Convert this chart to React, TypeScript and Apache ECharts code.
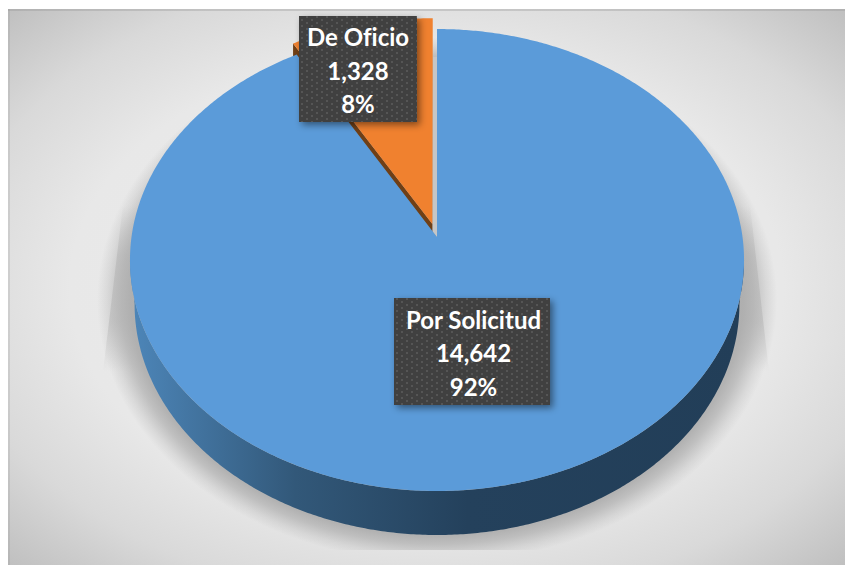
import React, { useEffect, useRef } from "react";
import * as echarts from "echarts";

const categories = ["Por Solicitud", "De Oficio"];
const values = [14642, 1328];

const W = 845;
const H = 565;
const FONT = "Lato, 'Open Sans', sans-serif";

// perspective of the tilted disc
const CX = 437;
const CY = 237;
const RX = 305.5;
const RY = 228.7;
const P = 0.0996;
const DEPTH = 44;
const BOTTOM_SCALE = 0.985;
const INNER_DEPTH = 28;
const EXPLODE = 0.0595;

const TOP_COLORS = ["#5b9bd9", "#f0812f"];
const BOXES = [
  { x: 394, y: 298, w: 156, h: 107, dx: 1.5 },
  { x: 299, y: 16, w: 118, h: 106, dx: 0 },
];

function project(theta: number, ex = 0, ey = 0): [number, number] {
  const X = Math.sin(theta) + ex;
  const Y = Math.cos(theta) + ey;
  const w = 1 + P * Y;
  return [CX + (RX * X) / w, CY - (RY * Y) / w];
}

function rim(a: number, b: number, ex = 0, ey = 0, dy = 0, sx = 1): [number, number][] {
  const n = Math.max(2, Math.ceil((Math.abs(b - a) * 180) / Math.PI / 0.5));
  const pts: [number, number][] = [];
  for (let i = 0; i <= n; i++) {
    const p = project(a + ((b - a) * i) / n, ex, ey);
    pts.push([CX + (p[0] - CX) * sx, p[1] + dy]);
  }
  return pts;
}

function toPath(pts: [number, number][]) {
  return "M" + pts.map((p) => p[0].toFixed(2) + " " + p[1].toFixed(2)).join("L") + "Z";
}

function dotPattern() {
  const c = document.createElement("canvas");
  c.width = 10;
  c.height = 6;
  const g = c.getContext("2d")!;
  g.fillStyle = "#3f3f3f";
  g.fillRect(0, 0, 10, 6);
  g.fillStyle = "#555555";
  g.fillRect(1, 1, 2, 2);
  g.fillRect(6, 4, 2, 2);
  return c;
}

function haloPoints(): number[][] {
  const pts: number[][] = [];
  for (let a = 0; a < 360; a += 2) {
    const x = 437 + 340 * Math.cos((a * Math.PI) / 180);
    const y = 300 + 275 * Math.sin((a * Math.PI) / 180);
    pts.push([x, Math.min(y, 550)]);
  }
  return pts;
}

export default function App() {
  const ref = useRef<HTMLDivElement>(null);
  useEffect(() => {
    document.body.style.margin = "0";
    const chart = echarts.init(ref.current!, null, { renderer: "svg", width: W, height: H });
    const total = values.reduce((a, b) => a + b, 0);
    const pattern = dotPattern();

    const renderItem = (params: any, api: any) => {
      const i = params.dataIndex;
      const v = api.value(0) as number;
      const before = values.slice(0, i).reduce((a, b) => a + b, 0);
      const a0 = (before / total) * Math.PI * 2;
      const a1 = ((before + v) / total) * Math.PI * 2;
      const children: any[] = [];
      let ex = 0;
      let ey = 0;
      if (i > 0) {
        const mid = (a0 + a1) / 2;
        ex = Math.sin(mid) * EXPLODE;
        ey = Math.cos(mid) * EXPLODE;
      }
      const apexPt: [number, number] = [CX + (RX * ex) / (1 + P * ey), CY - (RY * ey) / (1 + P * ey)];
      const arc = rim(a0, a1, ex, ey);

      if (i === 0) {
        const tExt = Math.acos(-P);
        const front = rim(tExt, Math.PI * 2 - tExt);
        const back = rim(Math.PI * 2 - tExt, tExt, 0, 0, DEPTH, BOTTOM_SCALE);
        children.push({
          type: "path",
          z2: 3,
          shape: { pathData: toPath(front.concat(back)) },
          style: {
            fill: {
              type: "linear",
              x: 0,
              y: 0,
              x2: 1,
              y2: 0,
              colorStops: [
                { offset: 0, color: "#4d86b9" },
                { offset: 0.27, color: "#325879" },
                { offset: 0.55, color: "#24415c" },
                { offset: 1, color: "#223e58" },
              ],
            },
          },
        });
      } else {
        // side wall of the pulled-out slice, partly hidden by the big slice
        const corner = arc[0];
        children.push({
          type: "path",
          z2: 2,
          shape: {
            pathData: toPath([
              apexPt,
              corner,
              [corner[0], corner[1] + INNER_DEPTH],
              [apexPt[0], apexPt[1] + INNER_DEPTH],
            ]),
          },
          style: { fill: "#6f3f16" },
        });
        // inner wall of the notch left in the big slice
        const edge = arc[arc.length - 1];
        const topRim = project(0);
        children.push({
          type: "path",
          z2: 1,
          shape: {
            pathData: toPath([
              [edge[0], topRim[1] + INNER_DEPTH],
              [topRim[0], topRim[1] + INNER_DEPTH],
              [CX, CY],
              [edge[0], CY - 5],
            ]),
          },
          style: { fill: "#c6c6c6" },
        });
      }

      const top = arc.concat([apexPt]);
      children.push({
        type: "path",
        z2: i === 0 ? 4 : 5,
        shape: { pathData: toPath(top) },
        style: { fill: TOP_COLORS[i] },
      });

      const box = BOXES[i];
      children.push({
        type: "rect",
        z2: 6,
        shape: { x: box.x, y: box.y, width: box.w, height: box.h },
        style: {
          fill: { image: pattern, repeat: "repeat" },
          shadowColor: "rgba(0,0,0,0.45)",
          shadowBlur: 7,
          shadowOffsetX: 3,
          shadowOffsetY: 3,
        },
      });
      children.push({
        type: "text",
        z2: 7,
        x: box.x + box.w / 2 + box.dx,
        y: box.y + box.h / 2 + 1,
        style: {
          text: [categories[i], v.toLocaleString("en-US"), Math.round((v / total) * 100) + "%"].join("\n"),
          fill: "#ffffff",
          font: "bold 24px " + FONT,
          align: "center",
          verticalAlign: "middle",
          lineHeight: 33.5,
        },
      });
      return { type: "group", children };
    };

    chart.setOption({
      animation: false,
      backgroundColor: "#ffffff",
      graphic: [
        {
          type: "rect",
          z: 0,
          silent: true,
          shape: { x: 8, y: 9, width: W - 8, height: H - 9 },
          style: {
            fill: {
              type: "radial",
              x: 0.5,
              y: 0.5,
              r: 0.71,
              colorStops: [
                { offset: 0, color: "#ececec" },
                { offset: 0.6, color: "#e8e8e8" },
                { offset: 0.8, color: "#d9d9d9" },
                { offset: 1, color: "#bfbfbf" },
              ],
            },
          },
        },
        {
          type: "rect",
          z: 0,
          silent: true,
          shape: { x: 8, y: 9, width: W - 8, height: 2 },
          style: { fill: "rgba(150,150,150,0.35)" },
        },
        {
          type: "rect",
          z: 0,
          silent: true,
          shape: { x: 8, y: 9, width: 2, height: H - 9 },
          style: { fill: "rgba(150,150,150,0.25)" },
        },
        {
          type: "polygon",
          z: 0,
          silent: true,
          shape: {
            points: [
              [123, 205],
              [103, 372],
              [769, 372],
              [750, 205],
            ],
          },
          style: {
            fill: {
              type: "linear",
              x: 0,
              y: 0,
              x2: 0,
              y2: 1,
              colorStops: [
                { offset: 0, color: "rgba(165,165,165,0)" },
                { offset: 0.3, color: "rgba(165,165,165,0.38)" },
                { offset: 0.7, color: "rgba(165,165,165,0.38)" },
                { offset: 1, color: "rgba(165,165,165,0)" },
              ],
            },
          },
        },
        {
          type: "polygon",
          z: 0,
          silent: true,
          shape: { points: haloPoints() },
          style: {
            fill: {
              type: "radial",
              x: 0.5,
              y: 0.524,
              r: 0.5,
              colorStops: [
                { offset: 0, color: "rgba(172,172,172,0.9)" },
                { offset: 0.9, color: "rgba(172,172,172,0.9)" },
                { offset: 0.93, color: "rgba(172,172,172,0.68)" },
                { offset: 0.97, color: "rgba(172,172,172,0.25)" },
                { offset: 1, color: "rgba(172,172,172,0)" },
              ],
            },
          },
        },
      ],
      series: [
        {
          type: "custom",
          coordinateSystem: "none",
          silent: true,
          z: 2,
          data: values.map((v, i) => ({ name: categories[i], value: [v] })),
          renderItem,
        },
      ],
    });
    return () => chart.dispose();
  }, []);
  return (
    <>
      <style>{"svg text{font-variant-ligatures:none !important}"}</style>
      <div ref={ref} style={{ position: "absolute", left: 0, top: 0, width: W, height: H }} />
    </>
  );
}
